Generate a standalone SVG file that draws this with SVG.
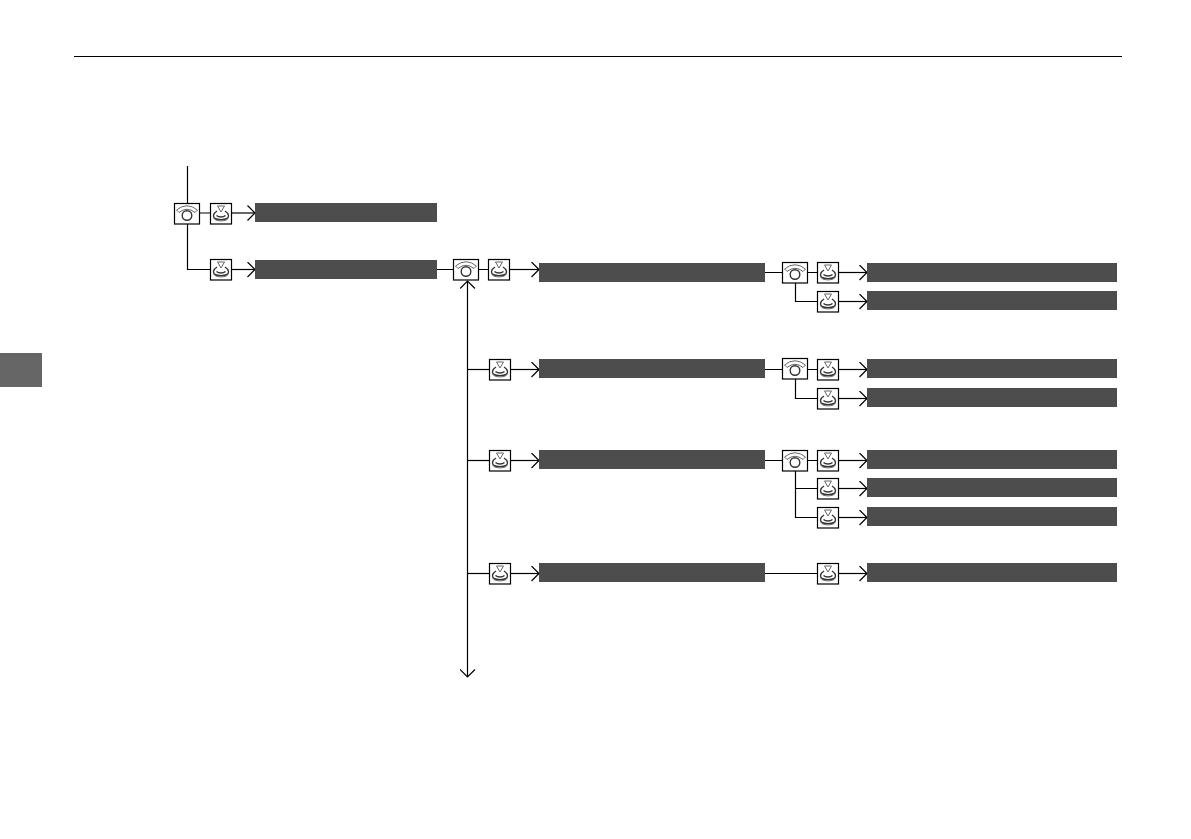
<svg xmlns="http://www.w3.org/2000/svg" width="1191" height="839" viewBox="0 0 1191 839">
<style>
.bar{fill:#4d4d4d}
.box{fill:#fff;stroke:#000;stroke-width:1.2}
.gl{fill:none;stroke:#666;stroke-width:1}
.gk{fill:none;stroke:#333;stroke-width:1.4}
.c{fill:none;stroke:#000;stroke-width:1.2}
</style>
<defs>
<marker id="a" markerUnits="userSpaceOnUse" markerWidth="10" markerHeight="16" refX="8.5" refY="8" orient="auto"><path d="M1 0.5L8.5 8L1 15.5" fill="none" stroke="#000" stroke-width="1.2"/></marker>
<g id="rot">
<rect class="box" x="0.5" y="0.5" width="25" height="20.500"/>
<path class="gl" d="M2.500 7Q13 -1.500 23.500 7L21 9.500Q13 3 5 9.500Z"/>
<circle class="gk" cx="13" cy="12.500" r="4.800" stroke-width="1.800"/>
</g>
<g id="push">
<rect class="box" x="0.5" y="0.5" width="21" height="20.500"/>
<path class="gl" d="M7.500 3H14.500L11 9Z"/>
<path class="gk" d="M7 8C3 10.500 2.500 14 5 15.500C8 17 14 17 17 15.500C19.500 14 19 10.500 15 8"/>
<path class="gl" d="M3.500 14.500C4 19 18 19 18.500 14.500"/>
<path class="gk" d="M6.500 12.500C9 14.500 13 14.500 15.500 12.500"/>
</g>
</defs>
<rect x="74" y="56" width="1048" height="1" fill="#000"/>
<rect x="0" y="353" width="42" height="34" fill="#666"/>
<g id="connectors">
<path class="c" d="M187.500 166V203M199 213H210"/>
<path class="c" marker-end="url(#a)" d="M231 213H255"/>
<path class="c" marker-end="url(#a)" d="M231 269.500H255"/>
<path class="c" d="M187.500 223V269.500H210M437 269.500H453M478 269.500H488"/>
<path class="c" marker-end="url(#a)" d="M510 269.500H539"/>
<path class="c" marker-end="url(#a)" d="M467.500 400V281"/>
<path class="c" marker-end="url(#a)" d="M467.500 400V677"/>
<path class="c" d="M765 272.500H782M807 272.500H817M795.500 283V301.500H817"/>
<path class="c" marker-end="url(#a)" d="M838 272.500H867"/>
<path class="c" marker-end="url(#a)" d="M838 301.500H867"/>
<path class="c" d="M467.500 369.500H489"/>
<path class="c" marker-end="url(#a)" d="M510 369.500H539"/>
<path class="c" d="M765 369.500H782M807 369.500H817M795.500 379V398.500H817"/>
<path class="c" marker-end="url(#a)" d="M838 369.500H867"/>
<path class="c" marker-end="url(#a)" d="M838 398.500H867"/>
<path class="c" d="M467.500 460.500H489"/>
<path class="c" marker-end="url(#a)" d="M510 460.500H539"/>
<path class="c" d="M765 460.500H782M807 460.500H817M795.500 471V517.500H817M795.500 488.500H817"/>
<path class="c" marker-end="url(#a)" d="M838 460.500H867"/>
<path class="c" marker-end="url(#a)" d="M838 488.500H867"/>
<path class="c" marker-end="url(#a)" d="M838 517.500H867"/>
<path class="c" d="M467.500 573.500H489"/>
<path class="c" marker-end="url(#a)" d="M510 573.500H539"/>
<path class="c" d="M765 573.500H817"/>
<path class="c" marker-end="url(#a)" d="M838 573.500H867"/>
</g>
<g id="n1"><use href="#rot" x="174" y="203"/></g>
<g id="n2"><use href="#push" x="210" y="203"/></g>
<g id="n3"><rect class="bar" x="255" y="203" width="182" height="19"/></g>
<g id="n4"><use href="#push" x="210" y="259"/></g>
<g id="n5"><rect class="bar" x="255" y="260" width="182" height="19"/></g>
<g id="n6"><use href="#rot" x="453" y="259"/></g>
<g id="n7"><use href="#push" x="488" y="259"/></g>
<g id="n8"><rect class="bar" x="539" y="263" width="226" height="19"/></g>
<g id="n9"><use href="#rot" x="782" y="262"/></g>
<g id="n10"><use href="#push" x="817" y="262"/></g>
<g id="n11"><rect class="bar" x="867" y="263" width="250" height="19"/></g>
<g id="n12"><use href="#push" x="817" y="291"/></g>
<g id="n13"><rect class="bar" x="867" y="291" width="250" height="19"/></g>
<g id="n14"><use href="#push" x="489" y="359"/></g>
<g id="n15"><rect class="bar" x="539" y="359" width="226" height="19"/></g>
<g id="n16"><use href="#rot" x="782" y="358"/></g>
<g id="n17"><use href="#push" x="817" y="359"/></g>
<g id="n18"><rect class="bar" x="867" y="359" width="250" height="19"/></g>
<g id="n19"><use href="#push" x="817" y="388"/></g>
<g id="n20"><rect class="bar" x="867" y="388" width="250" height="19"/></g>
<g id="n21"><use href="#push" x="489" y="450"/></g>
<g id="n22"><rect class="bar" x="539" y="450" width="226" height="19"/></g>
<g id="n23"><use href="#rot" x="782" y="450"/></g>
<g id="n24"><use href="#push" x="817" y="450"/></g>
<g id="n25"><rect class="bar" x="867" y="450" width="250" height="19"/></g>
<g id="n26"><use href="#push" x="817" y="478"/></g>
<g id="n27"><rect class="bar" x="867" y="478" width="250" height="19"/></g>
<g id="n28"><use href="#push" x="817" y="507"/></g>
<g id="n29"><rect class="bar" x="867" y="507" width="250" height="19"/></g>
<g id="n30"><use href="#push" x="489" y="563"/></g>
<g id="n31"><rect class="bar" x="539" y="563" width="226" height="19"/></g>
<g id="n32"><use href="#push" x="817" y="563"/></g>
<g id="n33"><rect class="bar" x="867" y="563" width="250" height="19"/></g>
</svg>
